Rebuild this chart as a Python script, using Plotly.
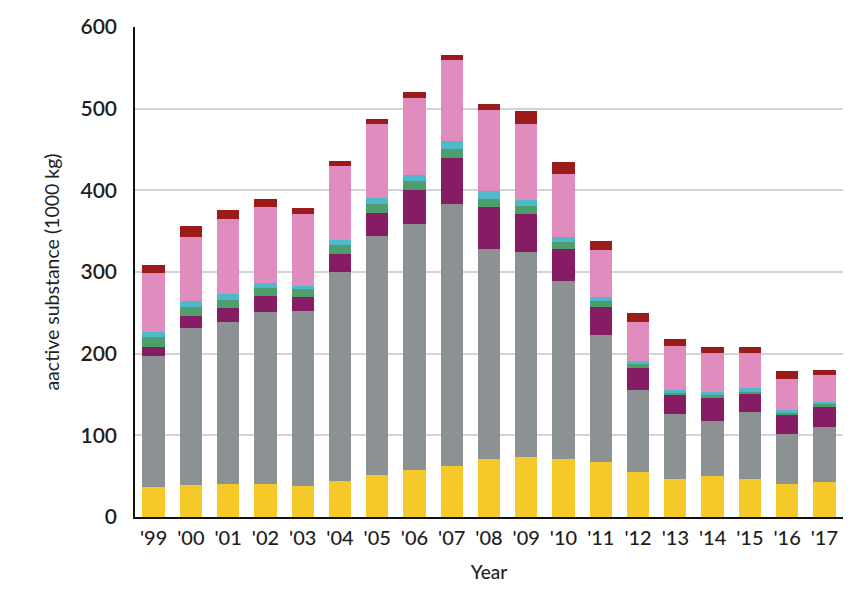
import plotly.graph_objects as go

years = ["'99", "'00", "'01", "'02", "'03", "'04", "'05", "'06", "'07", "'08",
         "'09", "'10", "'11", "'12", "'13", "'14", "'15", "'16", "'17"]
yellow = [37, 39, 40, 40, 38, 44, 51, 57, 62.5, 71, 73, 71, 67, 55, 46, 50, 47, 40, 43]
gray = [160.5, 192, 199.3, 211.4, 214, 256, 293, 302, 320.5, 257, 252, 218, 156, 100.7, 80, 68, 81, 62, 67]
purple = [10.5, 15.5, 16.2, 19.5, 17, 22.6, 28.4, 42, 56.4, 51.4, 46, 38.6, 33.7, 26.6, 24, 28, 22.5, 22.5, 24.5]
green = [12, 11, 10.1, 10.1, 10, 10.4, 10.7, 11, 11.6, 10.6, 10.3, 9.4, 7.4, 5, 2, 3, 3, 3, 4]
cyan = [7, 6.5, 7.3, 6, 4, 6, 7, 6.6, 9, 9.5, 7.4, 6.2, 5, 4, 4, 3.7, 4.5, 3.3, 2]
pink = [72, 79.3, 92.1, 92.2, 88, 90.5, 91.5, 94, 99, 99, 92.6, 77.3, 58.4, 48, 53.4, 48, 42.6, 38.6, 33]
darkred = [10, 12.5, 10.8, 10.4, 7, 7, 6, 7.5, 7, 7, 15.5, 14, 10.7, 11, 8, 7, 7, 9.4, 7]

series = [
    ("yellow", yellow, "#F4C928"),
    ("gray", gray, "#8C9194"),
    ("purple", purple, "#861C63"),
    ("green", green, "#4C9E6A"),
    ("cyan", cyan, "#4FB9CB"),
    ("pink", pink, "#E08CBE"),
    ("darkred", darkred, "#9B1A1A"),
]

fig = go.Figure()
for name, vals, col in series:
    fig.add_trace(go.Bar(x=years, y=vals, name=name, marker=dict(color=col, line=dict(width=0)),
                         width=0.6))

font_family = "Lato, 'Open Sans', sans-serif"
fig.update_layout(
    barmode="stack",
    showlegend=False,
    width=865, height=601,
    margin=dict(l=135, r=22, t=27, b=84),
    plot_bgcolor="white",
    paper_bgcolor="white",
    font=dict(family=font_family, color="#1e1e1e"),
)
fig.update_xaxes(
    showline=True, linecolor="#111", linewidth=2,
    ticks="", ticklabelstandoff=2,
    tickfont=dict(size=20, family=font_family, color="#1e1e1e", weight=500),
    title=dict(text="Year", font=dict(size=19, color="#1e1e1e", weight=500), standoff=18),
    range=[-0.5, 18.5],
)
fig.update_yaxes(
    range=[0, 600], dtick=100,
    showline=True, linecolor="#111", linewidth=1.5,
    showgrid=True, gridcolor="#d3d3d3", gridwidth=1.5,
    zeroline=False,
    ticks="", ticklabelstandoff=12,
    tickfont=dict(size=21, family=font_family, color="#1e1e1e", weight=600),
    title=dict(text="aactive substance (1000 kg)", font=dict(size=19.5, color="#1e1e1e"), standoff=16),
)
fig.write_html("out.html")
